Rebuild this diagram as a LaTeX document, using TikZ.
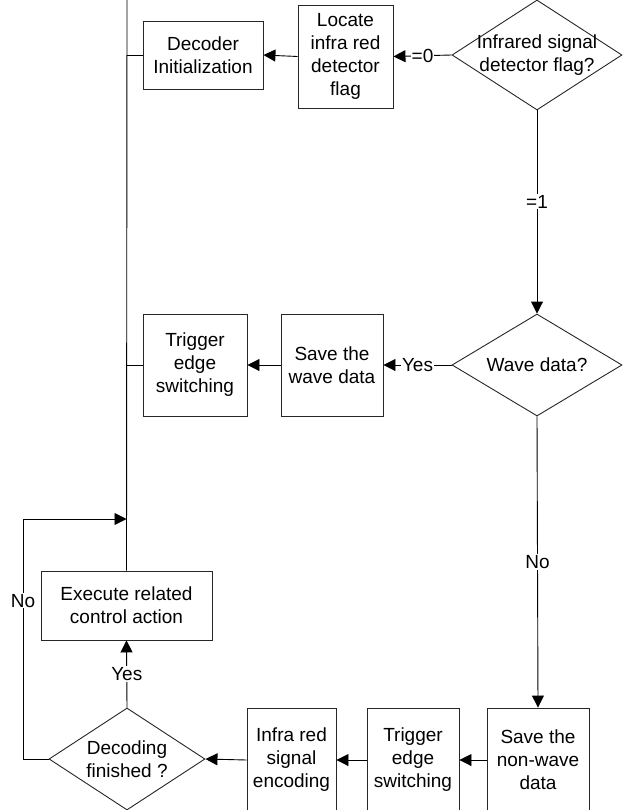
\documentclass[tikz,border=0pt]{standalone}
\usepackage{fontspec}
\setmainfont{Liberation Sans}
\usetikzlibrary{shapes.geometric,arrows.meta}

\begin{document}
\begin{tikzpicture}[x=1pt,y=-1pt,line width=0.9pt,
            font=\fontsize{19}{23}\selectfont,
            box/.style={shape=rectangle, draw=black!85, align=center, inner sep=0pt},
            dia/.style={shape=diamond, draw=black!85, inner sep=0pt},
            arr/.style={-{Triangle[length=12pt,width=12pt]}},
            lbl/.style={fill=white, inner sep=1pt}]
        \useasboundingbox (0,0) rectangle (623,810);
        \clip (0,0) rectangle (623,810);

        \node[box, minimum width=120pt, minimum height=68pt] (dec) at (203,55) {Decoder\\Initialization};
        \node[box, minimum width=95pt, minimum height=103pt] (locate) at (345.5,56.5) {Locate\\infra red\\detector\\flag};
        \node[dia, minimum width=170pt, minimum height=110pt,
              label={[align=center]center:Infrared signal\\detector flag?}] (flag) at (537,55) {};

        \node[dia, minimum width=170pt, minimum height=102pt,
              label={center:Wave data?}] (wave) at (537,365) {};
        \node[box, minimum width=102pt, minimum height=102pt] (savewave) at (332,365) {Save the\\wave data};
        \node[box, minimum width=104pt, minimum height=102pt] (trigA) at (195,365) {Trigger\\edge\\switching};

        \node[box, minimum width=102pt, minimum height=104pt] (nonwave) at (538,760) {Save the\\non-wave\\data};
        \node[box, minimum width=92pt, minimum height=104pt] (trigB) at (413,760) {Trigger\\edge\\switching};
        \node[box, minimum width=89pt, minimum height=104pt] (encode) at (291.5,760) {Infra red\\signal\\encoding};
        \node[dia, minimum width=156pt, minimum height=102pt,
              label={[align=center]center:Decoding\\finished ?}] (done) at (127,759) {};
        \node[box, minimum width=171pt, minimum height=69pt] (exec) at (126.5,605.5) {Execute related\\control action};

        \coordinate (top) at (127,-5);
        \coordinate (noturn) at (23,519);

        \draw (top) -- (exec.north);
        \draw (dec.west) -- (dec.west -| exec.north);
        \draw (trigA.west) -- (trigA.west -| exec.north);

        \draw[arr] (flag.west) -- node[lbl]{=0} (locate.east);
        \draw[arr] (locate.west) -- (dec.east);
        \draw[arr] (flag.south) -- node[lbl,pos=0.45]{=1} (wave.north);

        \draw[arr] (wave.west) -- node[lbl]{Yes} (savewave.east);
        \draw[arr] (savewave.west) -- (trigA.east);
        \draw[arr] (wave.south) -- node[lbl]{No} (nonwave.north);

        \draw[arr] (nonwave.west) -- (trigB.east);
        \draw[arr] (trigB.west) -- (encode.east);
        \draw[arr] (encode.west) -- (done.east);
        \draw[arr] (done.north) -- node[lbl]{Yes} (exec.south);
        \draw[arr] (done.west) -| node[lbl,pos=0.83]{No} (noturn) -- (noturn -| exec.north);
    \end{tikzpicture}
\end{document}
